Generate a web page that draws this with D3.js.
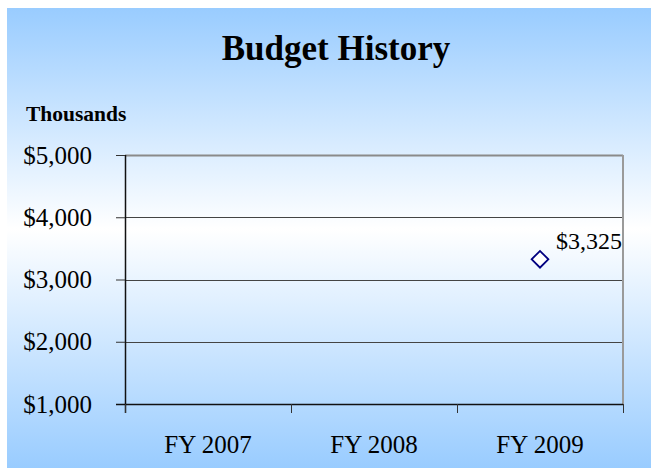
<!DOCTYPE html>
<html>
<head>
<meta charset="utf-8">
<script src="https://cdn.jsdelivr.net/npm/d3@7"></script>
<style>
  html, body { margin: 0; padding: 0; background: #ffffff; }
  svg { display: block; }
  text { font-family: "Liberation Serif", "DejaVu Serif", serif; fill: #000; }
</style>
</head>
<body>
<svg id="chart" width="651" height="468"></svg>
<script>
// Fiscal years on the category axis
const categories = ["FY 2007", "FY 2008", "FY 2009"];
// Budget in thousands of dollars (only FY 2009 reported)
const budgetValues = [null, null, 3325];
// Value axis ticks
const yTicks = [1000, 2000, 3000, 4000, 5000];

const W = 651, H = 468;
const svg = d3.select("#chart");

// Chart area background: blue fading to white in the middle and back to blue
const defs = svg.append("defs");
const grad = defs.append("linearGradient")
  .attr("id", "bg").attr("x1", 0).attr("y1", 0).attr("x2", 0).attr("y2", 1);
grad.append("stop").attr("offset", "0%").attr("stop-color", "#99ccff");
grad.append("stop").attr("offset", "48%").attr("stop-color", "#ffffff");
grad.append("stop").attr("offset", "100%").attr("stop-color", "#99ccff");

svg.append("rect")
  .attr("x", 7).attr("y", 8)
  .attr("width", W - 7).attr("height", H - 8)
  .attr("fill", "url(#bg)");

const plot = { left: 125, right: 623, top: 155, bottom: 404 };

const x = d3.scaleBand()
  .domain(categories)
  .range([plot.left, plot.right])
  .padding(0);

const y = d3.scaleLinear()
  .domain([1000, 5000])
  .range([plot.bottom, plot.top]);

// Title
svg.append("text")
  .attr("x", 336).attr("y", 60)
  .attr("text-anchor", "middle")
  .style("font-size", "35px")
  .style("font-weight", "bold")
  .text("Budget History");

// Units label
svg.append("text")
  .attr("x", 26).attr("y", 121)
  .style("font-size", "21.5px")
  .style("font-weight", "bold")
  .text("Thousands");

// Horizontal gridlines
svg.append("g")
  .selectAll("line")
  .data(yTicks.filter(d => d !== 1000))
  .join("line")
  .attr("x1", plot.left).attr("x2", plot.right)
  .attr("y1", d => Math.round(y(d)) + 0.5).attr("y2", d => Math.round(y(d)) + 0.5)
  .attr("stroke", d => d === 5000 ? "#8a8a8a" : "#444444")
  .attr("stroke-width", d => d === 5000 ? 2 : 1);

// Right plot border
svg.append("line")
  .attr("x1", plot.right).attr("x2", plot.right)
  .attr("y1", plot.top).attr("y2", plot.bottom)
  .attr("stroke", "#9a9a9a").attr("stroke-width", 2);

// Y axis
const yAxis = d3.axisLeft(y)
  .tickValues(yTicks)
  .tickSize(9)
  .tickPadding(24)
  .tickFormat(d => "$" + d3.format(",")(d));
const gy = svg.append("g")
  .attr("transform", `translate(${plot.left},0)`)
  .call(yAxis);
gy.select(".domain").attr("stroke", "#111").attr("stroke-width", 1.5)
  .attr("d", `M0.5,${plot.top}V${plot.bottom + 9}`);
gy.selectAll(".tick line").attr("stroke", "#333");
gy.selectAll(".tick text")
  .style("font-size", "25px")
  .style("font-family", "'Liberation Serif', serif")
  .attr("fill", "#000");

// X axis with ticks on category boundaries
const gx = svg.append("g")
  .attr("transform", `translate(0,${plot.bottom})`);
gx.append("line")
  .attr("x1", plot.left - 9).attr("x2", plot.right)
  .attr("y1", 0.5).attr("y2", 0.5)
  .attr("stroke", "#111").attr("stroke-width", 1.5);
const boundaries = categories.map(c => x(c)).concat([x(categories[categories.length - 1]) + x.bandwidth()]);
gx.selectAll("line.bt")
  .data(boundaries)
  .join("line")
  .attr("class", "bt")
  .attr("x1", d => Math.round(d) + 0.5).attr("x2", d => Math.round(d) + 0.5)
  .attr("y1", 0).attr("y2", 9)
  .attr("stroke", "#333");
gx.selectAll("text")
  .data(categories)
  .join("text")
  .attr("x", d => x(d) + x.bandwidth() / 2)
  .attr("y", 49)
  .attr("text-anchor", "middle")
  .style("font-size", "25px")
  .text(d => d);

// Data points (diamond markers) with value labels
const pts = categories.map((c, i) => ({ cat: c, value: budgetValues[i] }))
  .filter(d => d.value !== null);

svg.append("g")
  .selectAll("path")
  .data(pts)
  .join("path")
  .attr("transform", d => `translate(${x(d.cat) + x.bandwidth() / 2},${y(d.value)}) rotate(45)`)
  .attr("d", d3.symbol().type(d3.symbolSquare).size(140))
  .attr("fill", "#ffffff")
  .attr("stroke", "#000080")
  .attr("stroke-width", 1.8);

svg.append("g")
  .selectAll("text")
  .data(pts)
  .join("text")
  .attr("x", d => x(d.cat) + x.bandwidth() / 2 + 16)
  .attr("y", d => y(d.value) - 10)
  .style("font-size", "24px")
  .text(d => "$" + d3.format(",")(d.value));
</script>
</body>
</html>
